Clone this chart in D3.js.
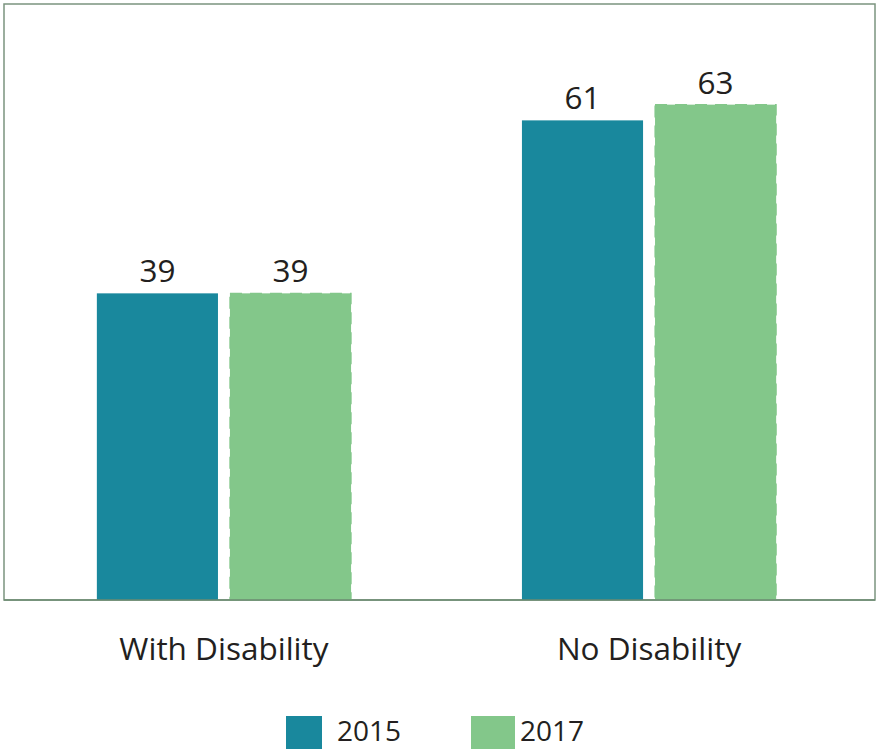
<!DOCTYPE html>
<html>
<head>
<meta charset="utf-8">
<script src="https://cdn.jsdelivr.net/npm/d3@7/dist/d3.min.js"></script>
<style>
  html, body { margin: 0; padding: 0; background: #fff; }
  svg { display: block; font-family: "Open Sans", sans-serif; }
</style>
</head>
<body>
<svg id="chart" width="876" height="749"></svg>
<script>
// Share of respondents by disability status, 2015 vs 2017
const categories = ["With Disability", "No Disability"];
const years = ["2015", "2017"];
const values2015 = [39, 61];
const values2017 = [39, 63];
const yMax = 75.8;

const colors = { "2015": "#19889d", "2017": "#83c78a" };
const textColor = "#231f20";
const frameColor = "#7b947f";

const svg = d3.select("#chart");

const plot = { left: 4, right: 875, top: 4, bottom: 600 };

const x = d3.scaleBand()
  .domain(categories)
  .range([1, 872])
  .paddingInner(0.402)
  .paddingOuter(0.2255);

const xInner = d3.scaleBand()
  .domain(years)
  .range([0, x.bandwidth()])
  .paddingInner(0.09)
  .paddingOuter(0);

const y = d3.scaleLinear()
  .domain([0, yMax])
  .range([plot.bottom, plot.top]);

const rows = categories.map((c, i) => ({
  category: c,
  bars: [
    { year: "2015", value: values2015[i] },
    { year: "2017", value: values2017[i] }
  ]
}));

// plot frame
svg.append("rect")
  .attr("x", plot.left)
  .attr("y", plot.top)
  .attr("width", plot.right - plot.left)
  .attr("height", plot.bottom - plot.top)
  .attr("fill", "none")
  .attr("stroke", frameColor)
  .attr("stroke-width", 1.5);

const groups = svg.selectAll("g.group")
  .data(rows)
  .join("g")
  .attr("class", "group")
  .attr("transform", d => `translate(${x(d.category)},0)`);

groups.selectAll("rect.bar")
  .data(d => d.bars)
  .join("rect")
  .attr("class", "bar")
  .attr("x", d => xInner(d.year))
  .attr("y", d => y(d.value))
  .attr("width", xInner.bandwidth())
  .attr("height", d => y(0) - y(d.value))
  .attr("fill", d => colors[d.year])
  .attr("stroke", d => d.year === "2017" ? colors[d.year] : "none")
  .attr("stroke-width", 1.2)
  .attr("stroke-dasharray", "12,8");

groups.selectAll("text.value")
  .data(d => d.bars)
  .join("text")
  .attr("class", "value")
  .attr("x", d => xInner(d.year) + xInner.bandwidth() / 2)
  .attr("y", d => y(d.value) - 11)
  .attr("text-anchor", "middle")
  .attr("font-size", 31.5)
  .attr("fill", textColor)
  .text(d => d.value);

// baseline over the bars
svg.append("line")
  .attr("x1", plot.left)
  .attr("x2", plot.right)
  .attr("y1", plot.bottom)
  .attr("y2", plot.bottom)
  .attr("stroke", "#6b8a70")
  .attr("stroke-width", 1.5);

// category axis
const xAxis = d3.axisBottom(x).tickSize(0).tickPadding(0);
const axisG = svg.append("g")
  .attr("transform", `translate(0,${plot.bottom})`)
  .call(xAxis);
axisG.select(".domain").remove();
axisG.selectAll("text")
  .attr("y", 60)
  .attr("dy", 0)
  .attr("font-size", 31.5)
  .attr("font-family", "Open Sans, sans-serif")
  .attr("fill", textColor);

// legend
const legendItems = [
  { year: "2015", sx: 286, sw: 36, tx: 337 },
  { year: "2017", sx: 471, sw: 44, tx: 520 }
];
const legend = svg.append("g");
legend.selectAll("rect")
  .data(legendItems)
  .join("rect")
  .attr("x", d => d.sx)
  .attr("y", 716)
  .attr("width", d => d.sw)
  .attr("height", 33)
  .attr("fill", d => colors[d.year]);
legend.selectAll("text")
  .data(legendItems)
  .join("text")
  .attr("x", d => d.tx)
  .attr("y", 741)
  .attr("font-size", 28)
  .attr("fill", textColor)
  .text(d => d.year);
</script>
</body>
</html>
